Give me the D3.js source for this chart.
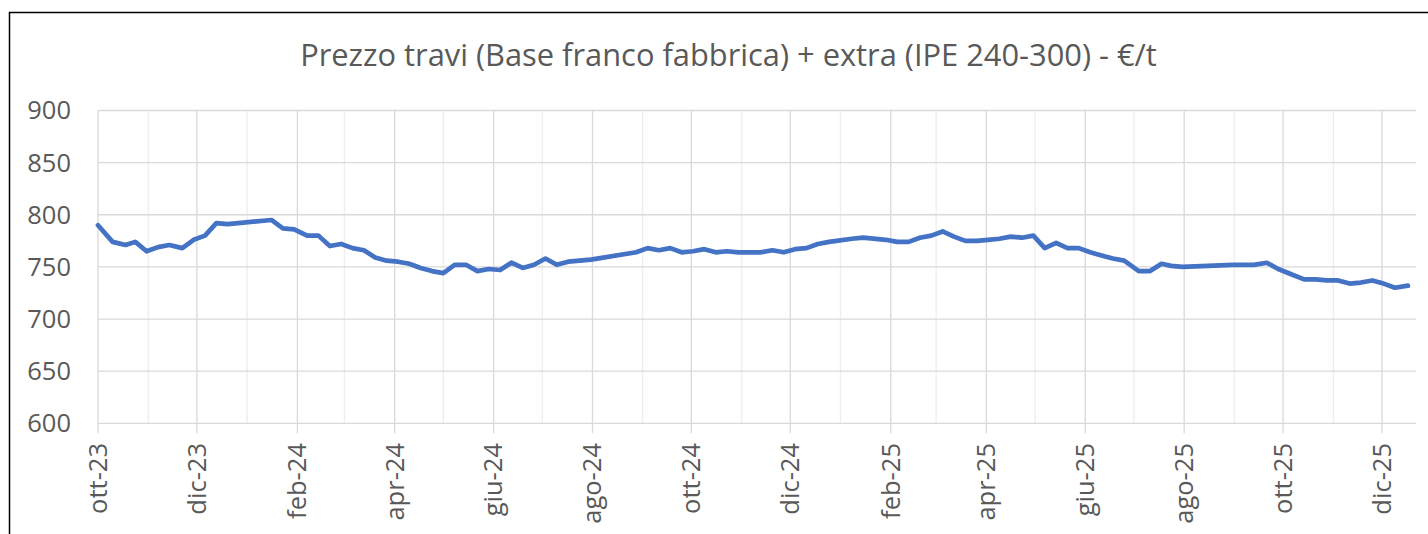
<!DOCTYPE html>
<meta charset="utf-8">
<style>
body{
    margin: 0;
    background: #fff;
    font-family: 'Open Sans', sans-serif;
}

.frame{
    fill: none;
    stroke: #000;
    stroke-width: 1.5;
}

.grid line{
    stroke: #d9d9d9;
    stroke-width: 1.3;
}

.grid line.minor{
    stroke: #eeeeee;
}

.tick-label{
    fill: #595959;
    font-size: 25.5px;
}

.title{
    fill: #595959;
    font-size: 28px;
}

.price-line{
    fill: none;
    stroke: #4472c4;
    stroke-width: 4.7;
    stroke-linejoin: round;
    stroke-linecap: round;
}
</style>
<svg width="1428" height="534"></svg>
<script src="https://d3js.org/d3.v7.min.js"></script>
<script>

var titleText = 'Prezzo travi (Base franco fabbrica) + extra (IPE 240-300) - €/t';
var monthNames = ['gen','feb','mar','apr','mag','giu','lug','ago','set','ott','nov','dic'];
var yTicks = [600, 650, 700, 750, 800, 850, 900];

var dates = [
    '2023-10-01','2023-10-10','2023-10-18','2023-10-24','2023-10-31','2023-11-07','2023-11-14','2023-11-22',
    '2023-11-29','2023-12-06','2023-12-13','2023-12-20','2024-01-16','2024-01-23','2024-01-30','2024-02-07',
    '2024-02-14','2024-02-21','2024-02-28','2024-03-06','2024-03-13','2024-03-20','2024-03-27','2024-04-03',
    '2024-04-10','2024-04-17','2024-04-24','2024-05-01','2024-05-08','2024-05-15','2024-05-22','2024-05-29',
    '2024-06-05','2024-06-12','2024-06-19','2024-06-26','2024-07-03','2024-07-10','2024-07-17','2024-07-24',
    '2024-07-31','2024-08-28','2024-09-04','2024-09-11','2024-09-18','2024-09-25','2024-10-02','2024-10-09',
    '2024-10-16','2024-10-23','2024-10-30','2024-11-06','2024-11-13','2024-11-20','2024-11-27','2024-12-04',
    '2024-12-11','2024-12-18','2024-12-25','2025-01-08','2025-01-15','2025-01-29','2025-02-05','2025-02-12',
    '2025-02-19','2025-02-26','2025-03-05','2025-03-12','2025-03-19','2025-03-26','2025-04-02','2025-04-09',
    '2025-04-16','2025-04-23','2025-04-30','2025-05-07','2025-05-14','2025-05-21','2025-05-28','2025-06-04',
    '2025-06-11','2025-06-18','2025-06-25','2025-07-04','2025-07-11','2025-07-18','2025-07-24','2025-07-31',
    '2025-08-31','2025-09-13','2025-09-21','2025-09-28','2025-10-06','2025-10-14','2025-10-21','2025-10-28',
    '2025-11-04','2025-11-11','2025-11-18','2025-11-25','2025-12-02','2025-12-09','2025-12-17'
];

var prices = [
    790, 774, 771, 774, 765, 769, 771, 768,
    776, 780, 792, 791, 795, 787, 786, 780,
    780, 770, 772, 768, 766, 759, 756, 755,
    753, 749, 746, 744, 752, 752, 746, 748,
    747, 754, 749, 752, 758, 752, 755, 756,
    757, 764, 768, 766, 768, 764, 765, 767,
    764, 765, 764, 764, 764, 766, 764, 767,
    768, 772, 774, 777, 778, 776, 774, 774,
    778, 780, 784, 779, 775, 775, 776, 777,
    779, 778, 780, 768, 773, 768, 768, 764,
    761, 758, 756, 746, 746, 753, 751, 750,
    752, 752, 754, 748, 743, 738, 738, 737,
    737, 734, 735, 737, 734, 730, 732
];

var svg = d3.select('svg');
var parseDate = d3.timeParse('%Y-%m-%d');

var plot = {left: 98, right: 1416, top: 110.5, bottom: 423.3};

var data = dates.map(function(d, i){
    return {date: parseDate(d), price: prices[i]};
});

var x = d3.scaleTime()
    .domain([parseDate('2023-10-01'), parseDate('2025-12-22')])
    .range([plot.left, plot.right]);

var y = d3.scaleLinear()
    .domain([600, 900])
    .range([plot.bottom, plot.top]);

// outer chart border (only top and left are inside the picture)
svg.append('rect')
    .attr('class', 'frame')
    .attr('x', 9.5)
    .attr('y', 12.5)
    .attr('width', 1440)
    .attr('height', 560);

svg.append('text')
    .attr('class', 'title')
    .attr('x', 728.5)
    .attr('y', 66)
    .attr('text-anchor', 'middle')
    .text(titleText)
    .each(function(){
        // fit the title to the width it has in the picture
        var w = this.getComputedTextLength();
        d3.select(this).style('font-size', (28 * 857 / w) + 'px');
    });

var months = x.ticks(d3.timeMonth.every(1));
function isMajor(d){ return d.getMonth() % 2 == 1; }

var grid = svg.append('g').attr('class', 'grid');

grid.selectAll('line.v')
    .data(months)
    .enter()
    .append('line')
        .attr('class', function(d){ return isMajor(d) ? 'v' : 'v minor'; })
        .attr('x1', function(d){ return x(d); })
        .attr('x2', function(d){ return x(d); })
        .attr('y1', plot.top)
        .attr('y2', function(d){ return isMajor(d) ? plot.bottom + 10 : plot.bottom; });

grid.selectAll('line.h')
    .data(yTicks)
    .enter()
    .append('line')
        .attr('class', 'h')
        .attr('x1', plot.left)
        .attr('x2', plot.right)
        .attr('y1', function(d){ return y(d); })
        .attr('y2', function(d){ return y(d); });

svg.append('g')
    .selectAll('text')
    .data(yTicks)
    .enter()
    .append('text')
        .attr('class', 'tick-label')
        .attr('x', 71)
        .attr('y', function(d){ return y(d); })
        .attr('dy', '0.35em')
        .attr('text-anchor', 'end')
        .text(function(d){ return d; });

svg.append('g')
    .selectAll('text')
    .data(months.filter(isMajor))
    .enter()
    .append('text')
        .attr('class', 'tick-label')
        .attr('text-anchor', 'end')
        .attr('dy', '0.35em')
        .attr('transform', function(d){ return 'translate(' + x(d) + ',443) rotate(-90)'; })
        .text(function(d){
            return monthNames[d.getMonth()] + '-' + d3.timeFormat('%y')(d);
        });

var line = d3.line()
    .x(function(d){ return x(d.date); })
    .y(function(d){ return y(d.price); });

svg.append('path')
    .datum(data)
    .attr('class', 'price-line')
    .attr('d', line);

</script>
